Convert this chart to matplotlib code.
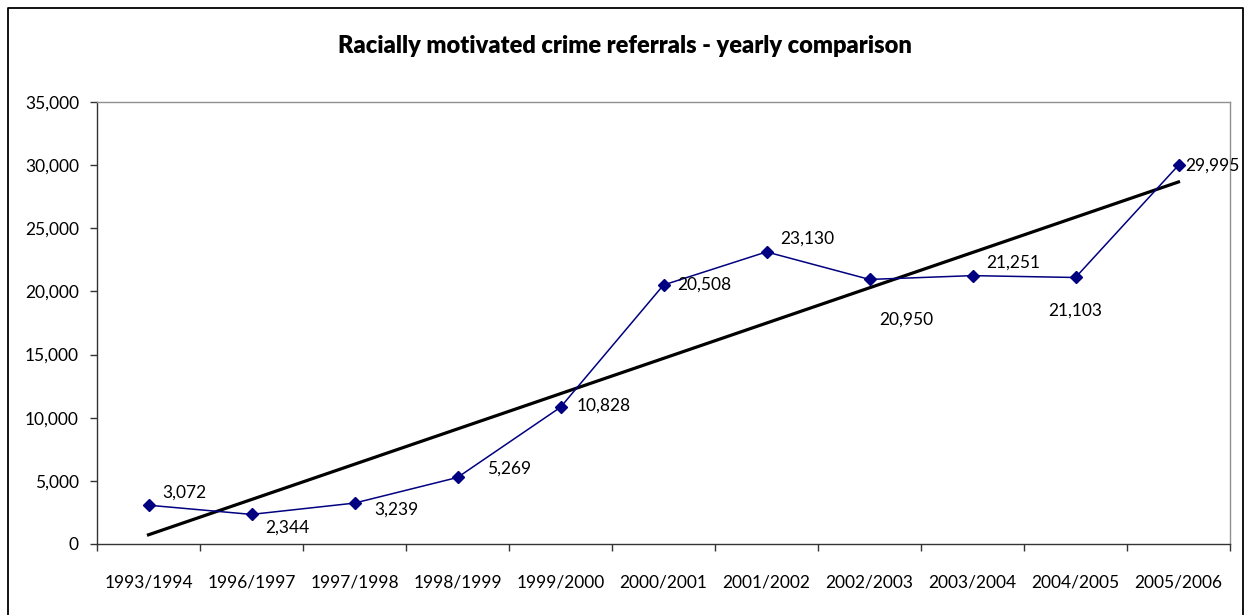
import numpy as np
import matplotlib.pyplot as plt
from matplotlib.lines import Line2D

plt.rcParams['font.family'] = ['Lato', 'DejaVu Sans']

years = ['1993/1994', '1996/1997', '1997/1998', '1998/1999', '1999/2000',
         '2000/2001', '2001/2002', '2002/2003', '2003/2004', '2004/2005',
         '2005/2006']
referrals = [3072, 2344, 3239, 5269, 10828, 20508, 23130, 20950, 21251,
             21103, 29995]
yticks = list(range(0, 35001, 5000))

# label offsets in pixels (dx, dy, horizontal alignment)
label_pos = [(14, 13, 'left'), (14, -13, 'left'), (20, -7, 'left'),
             (30, 9, 'left'), (16, 2, 'left'), (14, 0, 'left'),
             (14, 13, 'left'), (37, -40, 'center'), (14, 13, 'left'),
             (0, -33, 'center'), (7, 0, 'left')]

fig = plt.figure(figsize=(12.45, 6.15), dpi=100)
ax = fig.add_axes([97/1245, 71/615, 1133/1245, 442/615])

x = np.arange(len(years))
ax.plot(x, referrals, color='#000080', lw=1.1, marker='D', ms=6.5,
        mfc='#000080', mec='#000080', zorder=3)

# linear trendline
k, b = np.polyfit(x, referrals, 1)
ax.plot(x, k * x + b, color='black', lw=2.3, zorder=2)

for xi, v, (dx, dy, ha) in zip(x, referrals, label_pos):
    ax.annotate(f'{v:,}', (xi, v), xytext=(dx, dy), textcoords='offset pixels',
                ha=ha, va='center', fontsize=12.5, clip_on=False, zorder=4)

ax.set_xlim(-0.5, len(years) - 0.5)
ax.set_ylim(0, 35000)
ax.set_xticks(x)
ax.set_xticklabels(years)
ax.set_xticks(np.arange(-0.5, len(years)), minor=True)
ax.set_yticks(yticks)
ax.set_yticklabels([f'{t:,}' for t in yticks])
ax.tick_params(axis='x', which='major', length=0, pad=22, labelsize=12.5)
ax.tick_params(axis='x', which='minor', length=5, width=1, color='#333333')
ax.tick_params(axis='y', length=5, width=1, pad=8, labelsize=12.5,
               color='#333333')

ax.spines['left'].set_color('#333333')
ax.spines['bottom'].set_color('#333333')
ax.spines['top'].set_color('#909090')
ax.spines['right'].set_color('#909090')
for s in ax.spines.values():
    s.set_linewidth(1)

fig.text(0.502, 1 - 46/615, 'Racially motivated crime referrals - yearly comparison',
         ha='center', va='center', fontsize=17, fontweight='heavy')

# chart frame (open at the bottom)
fx0, fx1, fy1 = 7.5/1245, 1243/1245, 1 - 7.5/615
fig.add_artist(Line2D([fx0, fx0, fx1, fx1], [0, fy1, fy1, 0],
                      transform=fig.transFigure, color='black', lw=1.3))

fig.savefig('out.png', dpi=100)
